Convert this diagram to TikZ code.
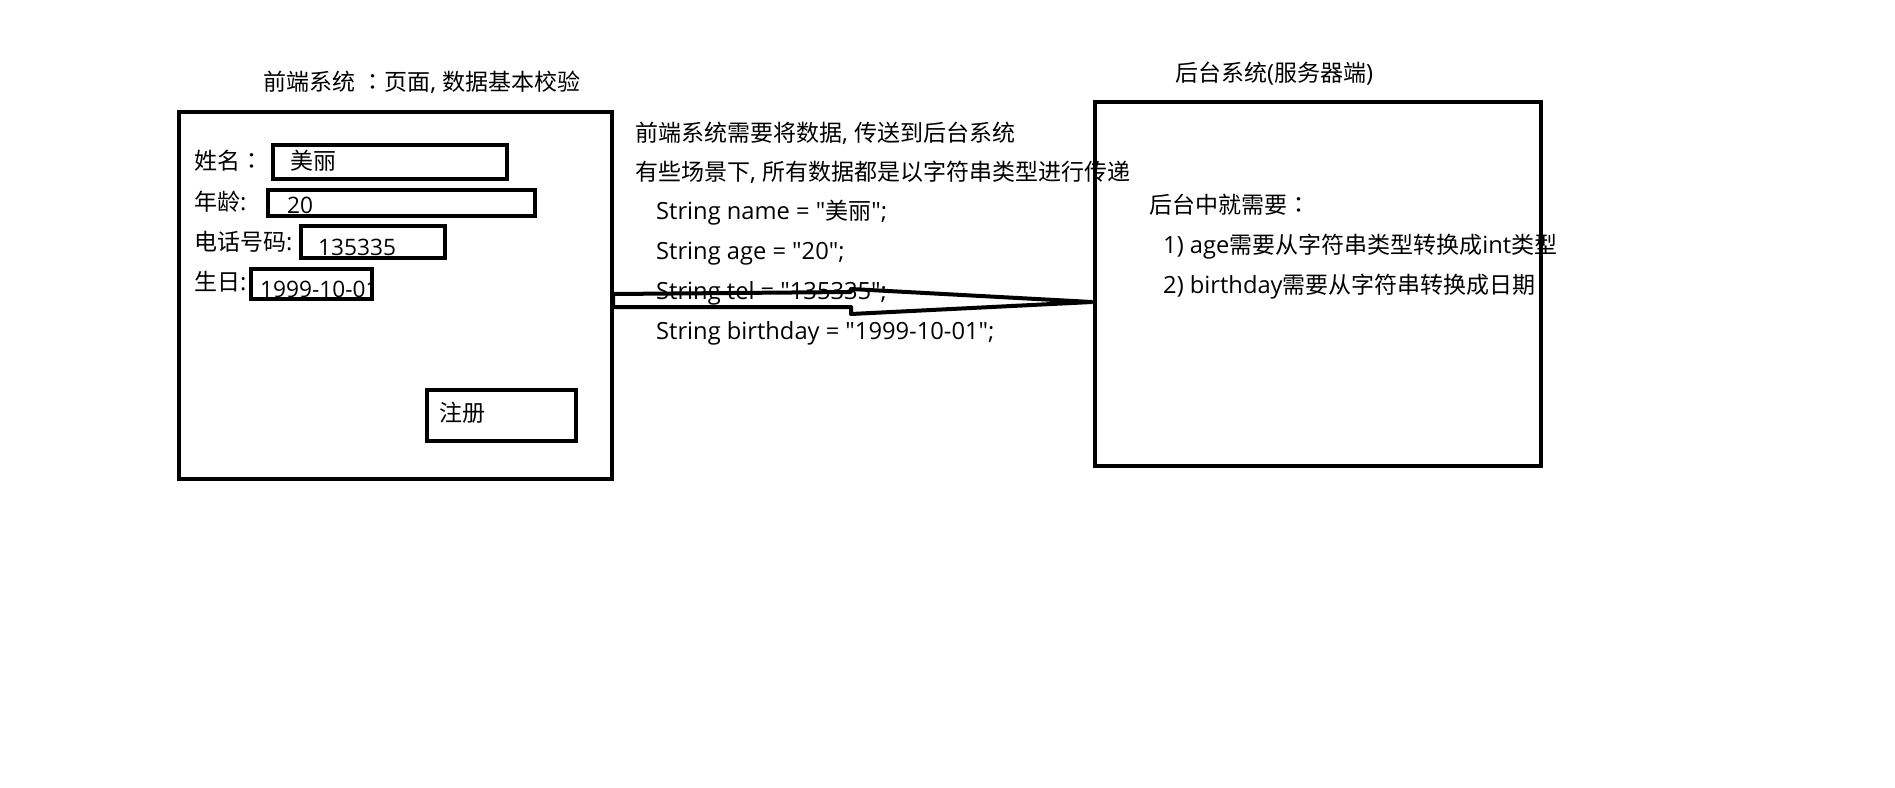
\documentclass[tikz,border=0pt]{standalone}
\usepackage{fontspec}
\setmainfont{Open Sans}[Ligatures=TeXOff, Scale=1.03]
\newfontfamily\zhfont{Noto Sans CJK SC}[Ligatures=TeXOff]
\newfontfamily\jpfont{Noto Sans CJK JP}[Ligatures=TeXOff]
\newcommand\zh[1]{{\zhfont #1}}
\newcommand\colonzh{{\jpfont ：}}
\usetikzlibrary{calc}
\tikzset{
  frame/.style={draw=black, line width=4pt, fill=none},
  field/.style={draw=black, line width=3.6pt, fill=none},
  txt/.style={anchor=base west, inner sep=0pt, font=\fontsize{23}{27}\selectfont},
  val/.style={txt, font=\fontsize{22}{26}\selectfont},
}
\begin{document}
\begin{tikzpicture}[x=1pt,y=-1pt]
\useasboundingbox (0,0) rectangle (1895,787);
% front-end system
\node[txt] (ftitle) at (263,90) {\zh{前端系统} \colonzh\zh{页面}, \zh{数据基本校验}};
\draw[frame] (179,112) rectangle (612,479);
\node[txt] (lname) at (194,169) {\zh{姓名}\colonzh};
\draw[field] (273,145) rectangle (507,179);
\node[txt] (vname) at (290,169) {\zh{美丽}};
\node[txt] (lage) at (194,210) {\zh{年龄}:};
\draw[field] (268,190) rectangle (535,216);
\node[val] (vage) at (287,213) {20};
\node[txt] (ltel) at (194,250) {\zh{电话号码}:};
\draw[field] (301,226) rectangle (445,258);
\node[val] (vtel) at (318,255) {135335};
\node[txt] (lbirth) at (194,290) {\zh{生日}:};
\draw[field] (251,269) rectangle (372,299);
\node[val] (vbirth) at (260,297) {1999-10-01};
\draw[field] (427,390) rectangle (576,441);
\node[txt] (reg) at (439,421) {\zh{注册}};
% middle text
\node[txt] (m1) at (635,141) {\zh{前端系统需要将数据}, \zh{传送到后台系统}};
\node[txt] (m2) at (635,180) {\zh{有些场景下}, \zh{所有数据都是以字符串类型进行传递}};
\node[txt] (m3) at (656,219) {String name = "\zh{美丽}";};
\node[txt] (m4) at (656,259) {String age = "20";};
\node[txt] (m5) at (656,299) {String tel = "135335";};
\node[txt] (m6) at (656,339) {String birthday = "1999-10-01";};
% back-end system
\node[txt] (btitle) at (1175,81) {\zh{后台系统}(\zh{服务器端})};
\draw[frame] (1095,102) rectangle (1541,466);
\node[txt] (b1) at (1149,213) {\zh{后台中就需要}\colonzh};
\node[txt] (b2) at (1163,253) {1) age\zh{需要从字符串类型转换成}int\zh{类型}};
\node[txt] (b3) at (1163,293) {2) birthday\zh{需要从字符串转换成日期}};
% arrow
\coordinate (astart) at (613,300.5);
\coordinate (atip) at (1092,302);
\draw[line width=4pt, line join=round]
  ($(astart)+(0,-6.5)$) -- (851,292) -- (851,289) -- (atip)
  -- (851,314) -- (851,307) -- ($(astart)+(0,6.5)$) -- cycle;
\end{tikzpicture}
\end{document}
